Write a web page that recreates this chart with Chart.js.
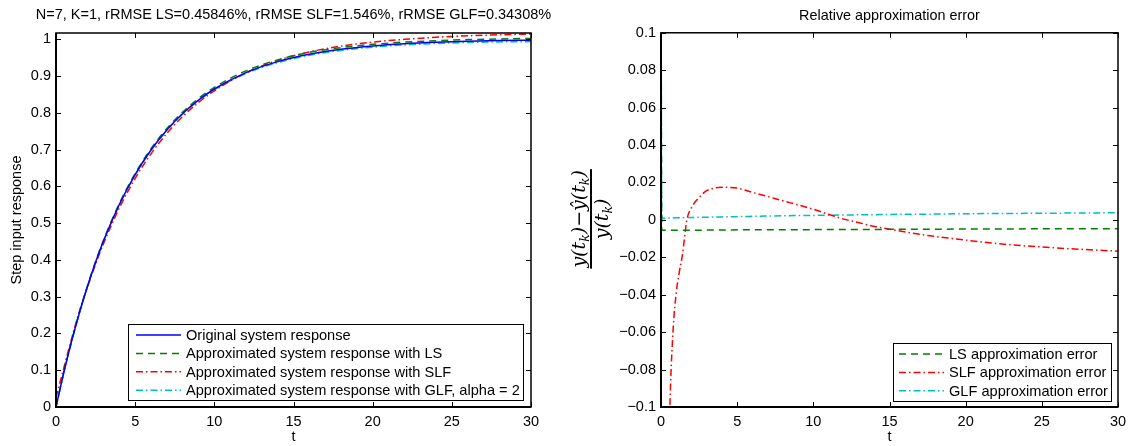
<html>
<head>
<title>Step response approximation</title>
<style>
  body { margin: 0; background: #fff; }
  .panel { position: absolute; top: 0; height: 446px; }
</style>
</head>
<body>
<div class="panel" style="left:0;width:560px"><canvas id="stepChart"></canvas></div>
<div class="panel" style="left:560px;width:576px"><canvas id="errChart"></canvas></div>

<script src="https://cdn.jsdelivr.net/npm/chart.js"></script>
<script>
// ---- left panel: step responses ----
const tStep = [0, 0.5, 1, 1.5, 2, 2.5, 3, 4, 5, 6, 7, 8, 9, 10, 12, 14, 16, 18, 20, 22, 24, 26, 28, 30];
const original = [0, 0.0952, 0.1813, 0.2592, 0.3297, 0.3935, 0.4512, 0.5507, 0.6321, 0.6988, 0.7534, 0.7981, 0.8347, 0.8647, 0.9093, 0.9392, 0.9592, 0.9727, 0.9817, 0.9877, 0.9918, 0.9945, 0.9963, 0.9975];
const approxLS = [0, 0.0960, 0.1822, 0.2604, 0.3312, 0.3954, 0.4535, 0.5535, 0.6352, 0.7023, 0.7571, 0.8021, 0.8389, 0.8690, 0.9140, 0.9440, 0.9641, 0.9773, 0.9862, 0.9922, 0.9962, 0.9990, 1.0008, 1.0022];
const approxSLF = [0.025, 0.107, 0.1886, 0.263, 0.3276, 0.3884, 0.4442, 0.5411, 0.6214, 0.6885, 0.7440, 0.7900, 0.8280, 0.8598, 0.9090, 0.9425, 0.9654, 0.9813, 0.9923, 0.9998, 1.0054, 1.0094, 1.0122, 1.0142];
const approxGLF = [0, 0.0951, 0.1811, 0.2589, 0.3293, 0.3930, 0.4506, 0.5498, 0.6310, 0.6975, 0.7519, 0.7964, 0.8328, 0.8627, 0.9070, 0.9366, 0.9564, 0.9697, 0.9786, 0.9845, 0.9885, 0.9911, 0.9928, 0.9937];

// ---- right panel: relative errors ----
const tErr = [0, 0.05, 1, 2, 4, 6, 8, 10, 12, 14, 16, 18, 20, 22, 24, 26, 28, 30];
const errLS = [0.15, -0.0055, -0.0055, -0.0055, -0.0054, -0.0053, -0.0053, -0.0052, -0.0051, -0.0051, -0.0050, -0.0050, -0.0049, -0.0049, -0.0048, -0.0048, -0.0047, -0.0047];
const errGLF = [0.15, 0.0009, 0.0011, 0.0013, 0.0016, 0.0019, 0.0022, 0.0024, 0.0026, 0.0028, 0.0030, 0.0031, 0.0033, 0.0034, 0.0035, 0.0036, 0.0037, 0.0038];
const tSLF = [0.5, 0.6, 0.8, 1, 1.2, 1.4, 1.7, 2, 2.5, 3, 3.5, 4, 5, 6, 7, 8, 9, 10, 11, 12, 13, 14, 15, 17.5, 20, 22.5, 25, 27.5, 30];
const errSLF = [-0.13, -0.095, -0.058, -0.039, -0.028, -0.019, 0.0, 0.0065, 0.012, 0.0156, 0.0170, 0.0174, 0.0170, 0.0147, 0.0125, 0.0102, 0.0080, 0.0057, 0.0030, 0.0004, -0.0015, -0.0035, -0.0050, -0.0083, -0.0108, -0.0130, -0.0145, -0.0157, -0.0167];

const xTicks = [0, 5, 10, 15, 20, 25, 30];
const stepTicks = [0, 0.1, 0.2, 0.3, 0.4, 0.5, 0.6, 0.7, 0.8, 0.9, 1];
const stepTickLabels = ['0', '0.1', '0.2', '0.3', '0.4', '0.5', '0.6', '0.7', '0.8', '0.9', '1'];
const errTicks = [-0.1, -0.08, -0.06, -0.04, -0.02, 0, 0.02, 0.04, 0.06, 0.08, 0.1];
const errTickLabels = ['\u22120.1', '\u22120.08', '\u22120.06', '\u22120.04', '\u22120.02', '0', '0.02', '0.04', '0.06', '0.08', '0.1'];

const stepTitle = 'N=7, K=1, rRMSE LS=0.45846%, rRMSE SLF=1.546%, rRMSE GLF=0.34308%';

Chart.defaults.font.family = '"Liberation Sans", Arial, sans-serif';
Chart.defaults.font.size = 14.5;
Chart.defaults.color = '#000';

const GREEN = 'rgb(0,128,0)';
const CYAN = 'rgb(0,191,191)';
const DASH = [7, 5];
const DASHDOT = [7, 3, 1.5, 3];

function pts(xs, ys) {
    return xs.map((x, i) => ({ x: x, y: ys[i] }));
}

// MATLAB style box with ticks pointing inwards
const axesBox = {
    id: 'axesBox',
    afterDatasetsDraw(chart) {
        const ctx = chart.ctx;
        const a = chart.chartArea;
        const sx = chart.scales.x, sy = chart.scales.y;
        ctx.save();
        ctx.strokeStyle = '#000';
        ctx.lineWidth = 1;
        ctx.beginPath();
        sx.ticks.forEach(t => {
            const p = Math.round(sx.getPixelForValue(t.value)) + 0.5;
            ctx.moveTo(p, a.bottom); ctx.lineTo(p, a.bottom - 5);
            ctx.moveTo(p, a.top); ctx.lineTo(p, a.top + 5);
        });
        sy.ticks.forEach(t => {
            const p = Math.round(sy.getPixelForValue(t.value)) + 0.5;
            ctx.moveTo(a.left, p); ctx.lineTo(a.left + 5, p);
            ctx.moveTo(a.right, p); ctx.lineTo(a.right - 5, p);
        });
        ctx.stroke();
        ctx.lineWidth = 1.5;
        ctx.strokeRect(a.left, a.top, a.right - a.left, a.bottom - a.top);
        ctx.beginPath();
        ctx.lineWidth = 2;
        ctx.moveTo(a.left, a.top); ctx.lineTo(a.left, a.bottom); ctx.lineTo(a.right, a.bottom);
        ctx.stroke();
        ctx.restore();
    }
};

// legend box drawn inside the axes, lower right
const boxLegend = {
    id: 'boxLegend',
    afterDraw(chart, args, opts) {
        const ctx = chart.ctx;
        const a = chart.chartArea;
        const sets = chart.data.datasets;
        ctx.save();
        ctx.font = '14.6px "Liberation Sans", Arial, sans-serif';
        let tw = 0;
        sets.forEach(d => { tw = Math.max(tw, ctx.measureText(d.label).width); });
        const rowH = 18.4, sample = 45;
        const w = opts.pad + sample + 5 + tw + 3;
        const h = rowH * (sets.length - 1) + 21;
        const x0 = Math.round(a.right - opts.right - w);
        const y0 = Math.round(a.bottom - opts.bottom - h);
        ctx.fillStyle = '#fff';
        ctx.fillRect(x0, y0, w, h);
        ctx.strokeStyle = '#000';
        ctx.lineWidth = 1;
        ctx.strokeRect(x0 + 0.5, y0 + 0.5, Math.round(w), Math.round(h));
        sets.forEach((d, i) => {
            const cy = y0 + 11 + rowH * i;
            ctx.strokeStyle = d.borderColor;
            ctx.lineWidth = d.borderWidth;
            ctx.setLineDash(d.borderDash || []);
            ctx.beginPath();
            ctx.moveTo(x0 + opts.pad, cy);
            ctx.lineTo(x0 + opts.pad + sample, cy);
            ctx.stroke();
            ctx.setLineDash([]);
            ctx.fillStyle = '#000';
            ctx.textBaseline = 'middle';
            ctx.fillText(d.label, x0 + opts.pad + sample + 5, cy + 1);
        });
        ctx.restore();
    }
};

// wide title centred over the axes (wider than the plot area, so not squeezed)
const wideTitle = {
    id: 'wideTitle',
    afterDraw(chart, args, opts) {
        const ctx = chart.ctx;
        const a = chart.chartArea;
        ctx.save();
        ctx.font = '14.5px "Liberation Sans", Arial, sans-serif';
        ctx.fillStyle = '#000';
        ctx.textAlign = 'center';
        ctx.textBaseline = 'middle';
        ctx.fillText(opts.text, (a.left + a.right) / 2, 15);
        ctx.restore();
    }
};

// fraction label for the error axis
const fracLabel = {
    id: 'fracLabel',
    afterDraw(chart) {
        const ctx = chart.ctx;
        const a = chart.chartArea;
        const num = [['y(t', 0], ['k', 1], [')\u2212', 0], ['\u0177(t', 0], ['k', 1], [')', 0]];
        const den = [['y(t', 0], ['k', 1], [')', 0]];
        const big = 'italic 19px "DejaVu Serif", serif';
        const small = 'italic 12.5px "DejaVu Serif", serif';
        function width(parts) {
            let w = 0;
            parts.forEach(p => { ctx.font = p[1] ? small : big; w += ctx.measureText(p[0]).width; });
            return w;
        }
        function draw(parts, y) {
            let x = -width(parts) / 2;
            parts.forEach(p => {
                ctx.font = p[1] ? small : big;
                ctx.fillText(p[0], x, p[1] ? y + 4 : y);
                x += ctx.measureText(p[0]).width;
            });
        }
        ctx.save();
        ctx.translate(31, (a.top + a.bottom) / 2 - 1);
        ctx.rotate(-Math.PI / 2);
        ctx.fillStyle = '#000';
        ctx.textBaseline = 'alphabetic';
        const wn = width(num);
        ctx.fillRect(-wn / 2 - 1, -1, wn + 2, 2);
        draw(num, -6);
        draw(den, 17);
        ctx.restore();
    }
};

function xScale() {
    return {
        type: 'linear', min: 0, max: 30,
        afterBuildTicks: s => { s.ticks = xTicks.map(v => ({ value: v })); },
        afterFit: s => { s.height = 39; },
        grid: { display: false, drawTicks: false, tickLength: 0 }, border: { display: false },
        ticks: { padding: 6, maxRotation: 0 },
        title: { display: true, text: 't', padding: { top: 0, bottom: 0 } }
    };
}

new Chart(document.getElementById('stepChart'), {
    type: 'line',
    data: {
        datasets: [
            { label: 'Original system response', data: pts(tStep, original), borderColor: 'blue', borderWidth: 1.5 },
            { label: 'Approximated system response with LS', data: pts(tStep, approxLS), borderColor: GREEN, borderWidth: 1.5, borderDash: DASH },
            { label: 'Approximated system response with SLF', data: pts(tStep, approxSLF), borderColor: 'red', borderWidth: 1.5, borderDash: DASHDOT },
            { label: 'Approximated system response with GLF, alpha = 2', data: pts(tStep, approxGLF), borderColor: CYAN, borderWidth: 1.5, borderDash: DASHDOT }
        ]
    },
    options: {
        responsive: true, maintainAspectRatio: false, animation: false,
        layout: { padding: { left: 0, right: 29, top: 33, bottom: 0 } },
        elements: { point: { radius: 0 }, line: { cubicInterpolationMode: 'monotone', fill: false } },
        plugins: {
            legend: { display: false },
            tooltip: { enabled: false },
            title: { display: false },
            wideTitle: { text: stepTitle },
            boxLegend: { pad: 8, right: 8, bottom: 7 }
        },
        scales: {
            x: xScale(),
            y: {
                type: 'linear', min: 0, max: 1.017,
                afterBuildTicks: s => { s.ticks = stepTicks.map(v => ({ value: v })); },
                afterFit: s => { s.width = 56; },
                grid: { display: false, drawTicks: false, tickLength: 0 }, border: { display: false },
                ticks: { padding: 5, callback: (v, i) => stepTickLabels[i] },
                title: { display: true, text: 'Step input response', padding: { top: 8, bottom: 0 } }
            }
        }
    },
    plugins: [axesBox, boxLegend, wideTitle]
});

new Chart(document.getElementById('errChart'), {
    type: 'line',
    data: {
        datasets: [
            { label: 'LS approximation error', data: pts(tErr, errLS), borderColor: GREEN, borderWidth: 1.5, borderDash: DASH },
            { label: 'SLF approximation error', data: pts(tSLF, errSLF), borderColor: 'red', borderWidth: 1.5, borderDash: DASHDOT },
            { label: 'GLF approximation error', data: pts(tErr, errGLF), borderColor: CYAN, borderWidth: 1.5, borderDash: DASHDOT }
        ]
    },
    options: {
        responsive: true, maintainAspectRatio: false, animation: false,
        layout: { padding: { left: 0, right: 18, top: 0, bottom: 0 } },
        elements: { point: { radius: 0 }, line: { cubicInterpolationMode: 'monotone', fill: false } },
        plugins: {
            legend: { display: false },
            tooltip: { enabled: false },
            title: { display: true, fullSize: false, text: 'Relative approximation error', font: { size: 14.4, weight: 'normal' }, padding: { top: 7.5, bottom: 8 } },
            boxLegend: { pad: 6, right: 7, bottom: 6 }
        },
        scales: {
            x: xScale(),
            y: {
                type: 'linear', min: -0.1, max: 0.1,
                afterBuildTicks: s => { s.ticks = errTicks.map(v => ({ value: v })); },
                afterFit: s => { s.width = 101; },
                grid: { display: false, drawTicks: false, tickLength: 0 }, border: { display: false },
                ticks: { padding: 5, callback: (v, i) => errTickLabels[i] },
                title: { display: false }
            }
        }
    },
    plugins: [axesBox, boxLegend, fracLabel]
});
</script>
</body>
</html>
